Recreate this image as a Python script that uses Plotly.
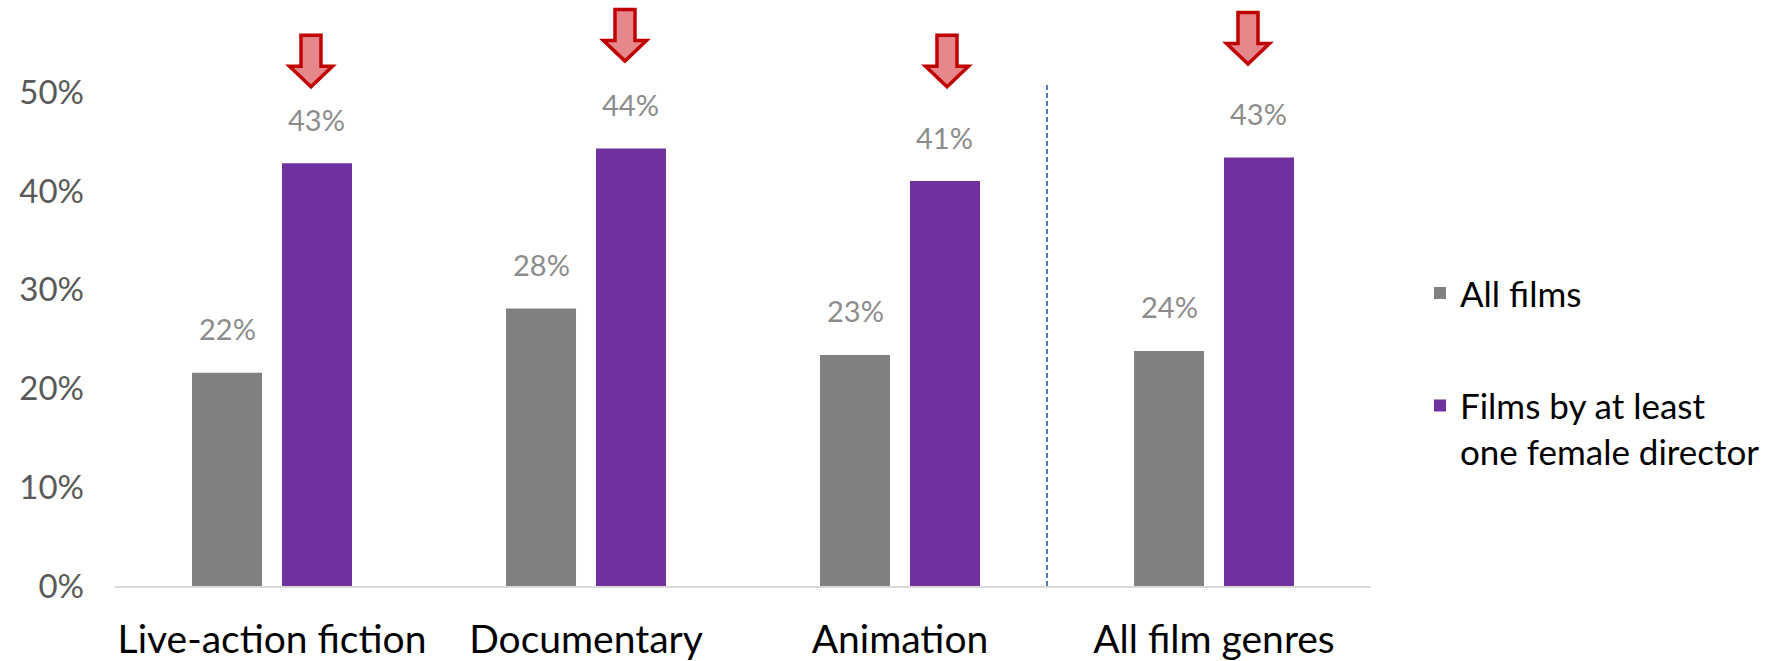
import plotly.graph_objects as go

categories = ["Live-action fiction", "Documentary", "Animation", "All film genres"]
all_films = [21.6, 28.1, 23.4, 23.8]
female_dir = [42.8, 44.3, 41.0, 43.4]
series_names = ["All films", "Films by at least<br>one female director"]
y_tickvals = [0, 10, 20, 30, 40, 50]
y_ticktext = ["0%", "10%", "20%", "30%", "40%", "50%"]
arrow_tip_y = [50.4, 53.0, 50.4, 52.7]

GRAY = "#808080"
PURPLE = "#7030A0"
FONT = "Lato"
BARGAP = 0.427
BARGROUPGAP = 0.222
offset = (1 - BARGAP) / 4.0

xs = list(range(len(categories)))

fig = go.Figure()
fig.add_trace(go.Bar(x=xs, y=all_films, name=series_names[0], marker=dict(color=GRAY, line=dict(width=0)),
                     legendgroup="a", hoverinfo="skip"))
fig.add_trace(go.Bar(x=xs, y=female_dir, name=series_names[1], marker=dict(color=PURPLE, line=dict(width=0)),
                     legendgroup="b", hoverinfo="skip"))

annotations = []
for i, (a, b) in enumerate(zip(all_films, female_dir)):
    for xv, v in ((i - offset, a), (i + offset, b)):
        annotations.append(dict(x=xv, y=v, xref="x", yref="y", text=f"{round(v)}%", showarrow=False,
                                yanchor="middle", yshift=44,
                                font=dict(family=FONT, size=29, color="#8c8c8c")))

shapes = []
# down arrows above the female-director bars (small horizontal nudges in pixels)
arrow_nudge_px = [-6, -6, 2, -11]
for i, tip in enumerate(arrow_tip_y):
    d = arrow_nudge_px[i]
    path = (f"M{d},1.5 L{d-21.5},22 L{d-10},22 L{d-10},53 L{d+10},53 "
            f"L{d+10},22 L{d+21.5},22 Z")
    shapes.append(dict(type="path", xref="x", yref="y", xsizemode="pixel", ysizemode="pixel",
                       xanchor=i + offset, yanchor=tip, path=path,
                       fillcolor="#E5878B", line=dict(color="#C00000", width=3.5), layer="above"))
# separator between genres and total
shapes.append(dict(type="line", xref="x", yref="y", x0=2.468, x1=2.468, y0=0, y1=51.0,
                   line=dict(color="#4A7EBB", width=2, dash="5px,3px")))

fig.update_layout(
    width=1765, height=661,
    margin=dict(l=115, r=394, t=0, b=75),
    paper_bgcolor="white", plot_bgcolor="white",
    barmode="group", bargap=BARGAP, bargroupgap=BARGROUPGAP,
    showlegend=True,
    legend=dict(x=1.039, y=0.55, xanchor="left", yanchor="top", traceorder="grouped",
                tracegroupgap=64, valign="top",
                font=dict(family=FONT, size=35, color="black"), bgcolor="rgba(0,0,0,0)"),
    annotations=annotations,
    shapes=shapes,
    xaxis=dict(tickmode="array", tickvals=xs, ticktext=categories, range=[-0.5, len(categories) - 0.5],
               showline=True, linecolor="#D9D9D9", linewidth=2, showgrid=False, zeroline=False, ticks="",
               ticklabelstandoff=18,
               tickfont=dict(family=FONT, size=39, color="black")),
    yaxis=dict(tickmode="array", tickvals=y_tickvals, ticktext=y_ticktext, range=[0, 59.34],
               showline=False, showgrid=False, zeroline=False, ticks="", ticklabelstandoff=30,
               tickfont=dict(family=FONT, size=33, color="#595959")),
)

fig.write_html("out.html", config={"displayModeBar": False},
               post_script="document.body.style.margin='0';")
